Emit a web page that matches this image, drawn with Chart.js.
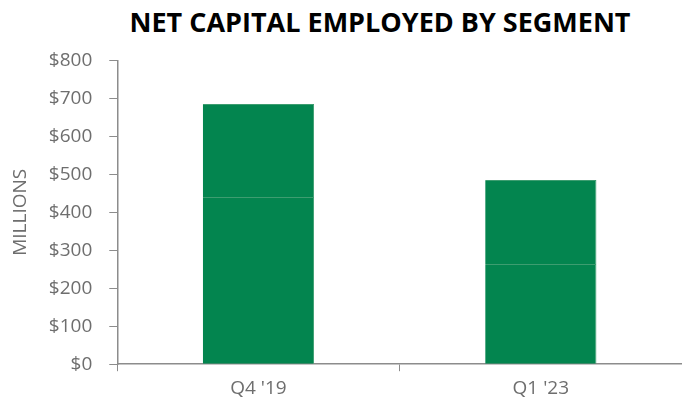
<!DOCTYPE html>
<html>
<head>
<meta charset="utf-8">
<script src="https://cdn.jsdelivr.net/npm/chart.js@4"></script>
<style>
  html, body { margin: 0; padding: 0; background: #fff; }
  #page { position: relative; width: 682px; height: 407px; }
  #title {
    position: absolute; left: 0; top: 0; width: 682px; box-sizing: border-box;
    padding: 2px 0 0 78px; text-align: center;
    font: bold 27px 'Open Sans', 'Noto Sans', sans-serif; color: #000;
    line-height: 40px; white-space: nowrap;
  }
  #wrap { position: absolute; left: 0; top: 32px; width: 682px; height: 375px; }
</style>
</head>
<body>
<div id="page">
  <div id="title">NET CAPITAL EMPLOYED BY SEGMENT</div>
  <div id="wrap"><canvas id="capChart"></canvas></div>
</div>
<script>
// Net capital employed, $ millions, two stacked segments per period
const periods = ["Q4 '19", "Q1 '23"];
const segmentLower = [440, 264];
const segmentUpper = [245, 221];
const yTicks = [0, 100, 200, 300, 400, 500, 600, 700, 800];

const green = '#03854f';
const seamGreen = '#3d9d70';
const axisGray = '#8c8c8c';
const textGray = '#6e6e6e';
const fontFamily = "'Open Sans', 'Noto Sans', sans-serif";

function initChart() {
    const ctx = document.getElementById('capChart').getContext('2d');
    const barStyle = {
        backgroundColor: green,
        borderColor: seamGreen,
        borderWidth: { top: 1, right: 1, left: 0, bottom: 0 },
        borderSkipped: false,
        categoryPercentage: 1,
        barPercentage: 0.394
    };
    return new Chart(ctx, {
        type: 'bar',
        data: {
            labels: periods,
            datasets: [
                Object.assign({ label: 'Segment A', data: segmentLower }, barStyle),
                Object.assign({ label: 'Segment B', data: segmentUpper }, barStyle)
            ]
        },
        options: {
            responsive: true,
            maintainAspectRatio: false,
            animation: false,
            layout: { padding: { left: 9, right: 0, top: 2, bottom: 1 } },
            plugins: {
                legend: { display: false },
                tooltip: { enabled: false },
                title: { display: false }
            },
            scales: {
                x: {
                    stacked: true,
                    border: { color: axisGray, width: 1.5 },
                    grid: {
                        offset: true,
                        drawOnChartArea: false,
                        drawTicks: true,
                        tickLength: 7,
                        color: axisGray
                    },
                    ticks: {
                        color: textGray,
                        padding: 6,
                        font: { family: fontFamily, size: 19 }
                    }
                },
                y: {
                    stacked: true,
                    min: 0,
                    max: 800,
                    afterBuildTicks: axis => { axis.ticks = yTicks.map(v => ({ value: v })); },
                    border: { color: axisGray, width: 1.5 },
                    grid: {
                        drawOnChartArea: false,
                        drawTicks: true,
                        tickLength: 8,
                        color: axisGray
                    },
                    ticks: {
                        color: textGray,
                        padding: 17,
                        font: { family: fontFamily, size: 19 },
                        callback: v => '$' + v
                    },
                    title: {
                        display: true,
                        text: 'MILLIONS',
                        color: textGray,
                        padding: { top: 0, bottom: 0 },
                        font: { family: fontFamily, size: 19 }
                    }
                }
            }
        }
    });
}

initChart();
</script>
</body>
</html>
